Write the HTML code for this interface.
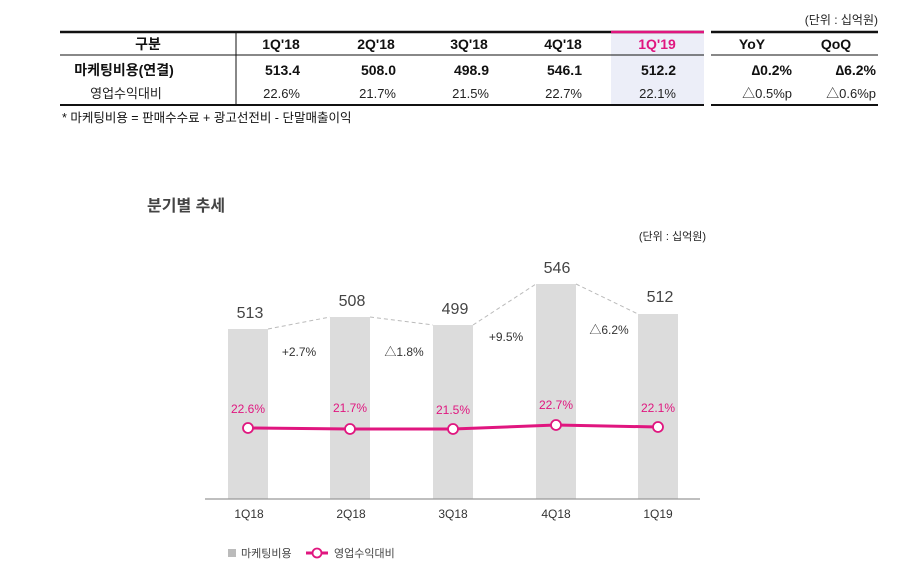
<!DOCTYPE html>
<html><head><meta charset="utf-8"><style>
html,body{margin:0;padding:0;background:#fff;width:898px;height:575px;overflow:hidden}
svg{display:block}
text{font-family:"Liberation Sans","Noto Sans CJK KR",sans-serif}
</style></head><body>
<svg width="898" height="575" viewBox="0 0 898 575" xmlns="http://www.w3.org/2000/svg">
<!-- table -->
<text x="878" y="24" font-size="12" text-anchor="end" fill="#222">(단위 : 십억원)</text>
<rect x="611" y="33" width="93" height="72" fill="#eceef8"/>
<line x1="60" y1="32" x2="704" y2="32" stroke="#111" stroke-width="2.5"/>
<line x1="611" y1="32" x2="704" y2="32" stroke="#e0167f" stroke-width="2.5"/>
<line x1="711" y1="32" x2="878" y2="32" stroke="#111" stroke-width="2.5"/>
<line x1="60" y1="55" x2="704" y2="55" stroke="#111" stroke-width="1"/>
<line x1="711" y1="55" x2="878" y2="55" stroke="#111" stroke-width="1"/>
<line x1="60" y1="105" x2="704" y2="105" stroke="#111" stroke-width="2"/>
<line x1="711" y1="105" x2="878" y2="105" stroke="#111" stroke-width="2"/>
<line x1="236" y1="32" x2="236" y2="105" stroke="#111" stroke-width="1"/>
<g font-size="14" font-weight="bold" fill="#111" text-anchor="middle">
<text x="148" y="49">구분</text>
<text x="281" y="49">1Q'18</text><text x="376" y="49">2Q'18</text><text x="469" y="49">3Q'18</text><text x="563" y="49">4Q'18</text>
<text x="657" y="49" fill="#e0167f">1Q'19</text>
<text x="752" y="49">YoY</text><text x="836" y="49">QoQ</text>
<text x="124" y="75">마케팅비용(연결)</text>
</g>
<g font-size="14" font-weight="bold" fill="#111" text-anchor="end">
<text x="300" y="75">513.4</text><text x="396" y="75">508.0</text><text x="489" y="75">498.9</text><text x="582" y="75">546.1</text><text x="676" y="75">512.2</text>
<text x="792" y="75">∆0.2%</text><text x="876" y="75">∆6.2%</text>
</g>
<g font-size="13" fill="#222" text-anchor="end">
<text x="126" y="98" text-anchor="middle">영업수익대비</text>
<text x="300" y="98">22.6%</text><text x="396" y="98">21.7%</text><text x="489" y="98">21.5%</text><text x="582" y="98">22.7%</text><text x="676" y="98">22.1%</text>
<text x="792" y="98">△0.5%p</text><text x="876" y="98">△0.6%p</text>
</g>
<text x="62" y="122" font-size="12.5" fill="#111">* 마케팅비용 = 판매수수료 + 광고선전비 - 단말매출이익</text>
<!-- chart -->
<text x="147" y="211" font-size="16" font-weight="bold" fill="#444">분기별 추세</text>
<text x="706" y="240" font-size="11" text-anchor="end" fill="#222">(단위 : 십억원)</text>
<g fill="#dcdcdc">
<rect x="228" y="329" width="40" height="170"/>
<rect x="330" y="317" width="40" height="182"/>
<rect x="433" y="325" width="40" height="174"/>
<rect x="536" y="284" width="40" height="215"/>
<rect x="638" y="314" width="40" height="185"/>
</g>
<g stroke="#bbb" stroke-dasharray="4,3" fill="none">
<polyline points="268,329 330,317"/><polyline points="370,317 433,325"/><polyline points="473,325 536,284"/><polyline points="576,284 638,314"/>
</g>
<line x1="205" y1="499" x2="700" y2="499" stroke="#999" stroke-width="1.2"/>
<g font-size="16" fill="#444" text-anchor="middle">
<text x="250" y="318">513</text><text x="352" y="306">508</text><text x="455" y="314">499</text><text x="557" y="273">546</text><text x="660" y="302">512</text>
</g>
<g font-size="12" fill="#333" text-anchor="middle">
<text x="299" y="356">+2.7%</text><text x="404" y="356">△1.8%</text><text x="506" y="341">+9.5%</text><text x="609" y="334">△6.2%</text>
</g>
<g font-size="12" fill="#e0167f" text-anchor="middle">
<text x="248" y="413">22.6%</text><text x="350" y="412">21.7%</text><text x="453" y="414">21.5%</text><text x="556" y="409">22.7%</text><text x="658" y="412">22.1%</text>
</g>
<polyline points="248,428 350,429 453,429 556,425 658,427" stroke="#e0167f" stroke-width="3" fill="none"/>
<g fill="#fff" stroke="#e0167f" stroke-width="1.8">
<circle cx="248" cy="428" r="5"/><circle cx="350" cy="429" r="5"/><circle cx="453" cy="429" r="5"/><circle cx="556" cy="425" r="5"/><circle cx="658" cy="427" r="5"/>
</g>
<g font-size="12" fill="#333" text-anchor="middle">
<text x="249" y="518">1Q18</text><text x="351" y="518">2Q18</text><text x="453" y="518">3Q18</text><text x="556" y="518">4Q18</text><text x="658" y="518">1Q19</text>
</g>
<rect x="228" y="549" width="8" height="8" fill="#bbb"/>
<text x="241" y="557" font-size="11" fill="#444">마케팅비용</text>
<line x1="306" y1="553" x2="328" y2="553" stroke="#e0167f" stroke-width="3"/>
<circle cx="317" cy="553" r="4.5" fill="#fff" stroke="#e0167f" stroke-width="1.8"/>
<text x="334" y="557" font-size="11" fill="#444">영업수익대비</text>
</svg>
</body></html>
